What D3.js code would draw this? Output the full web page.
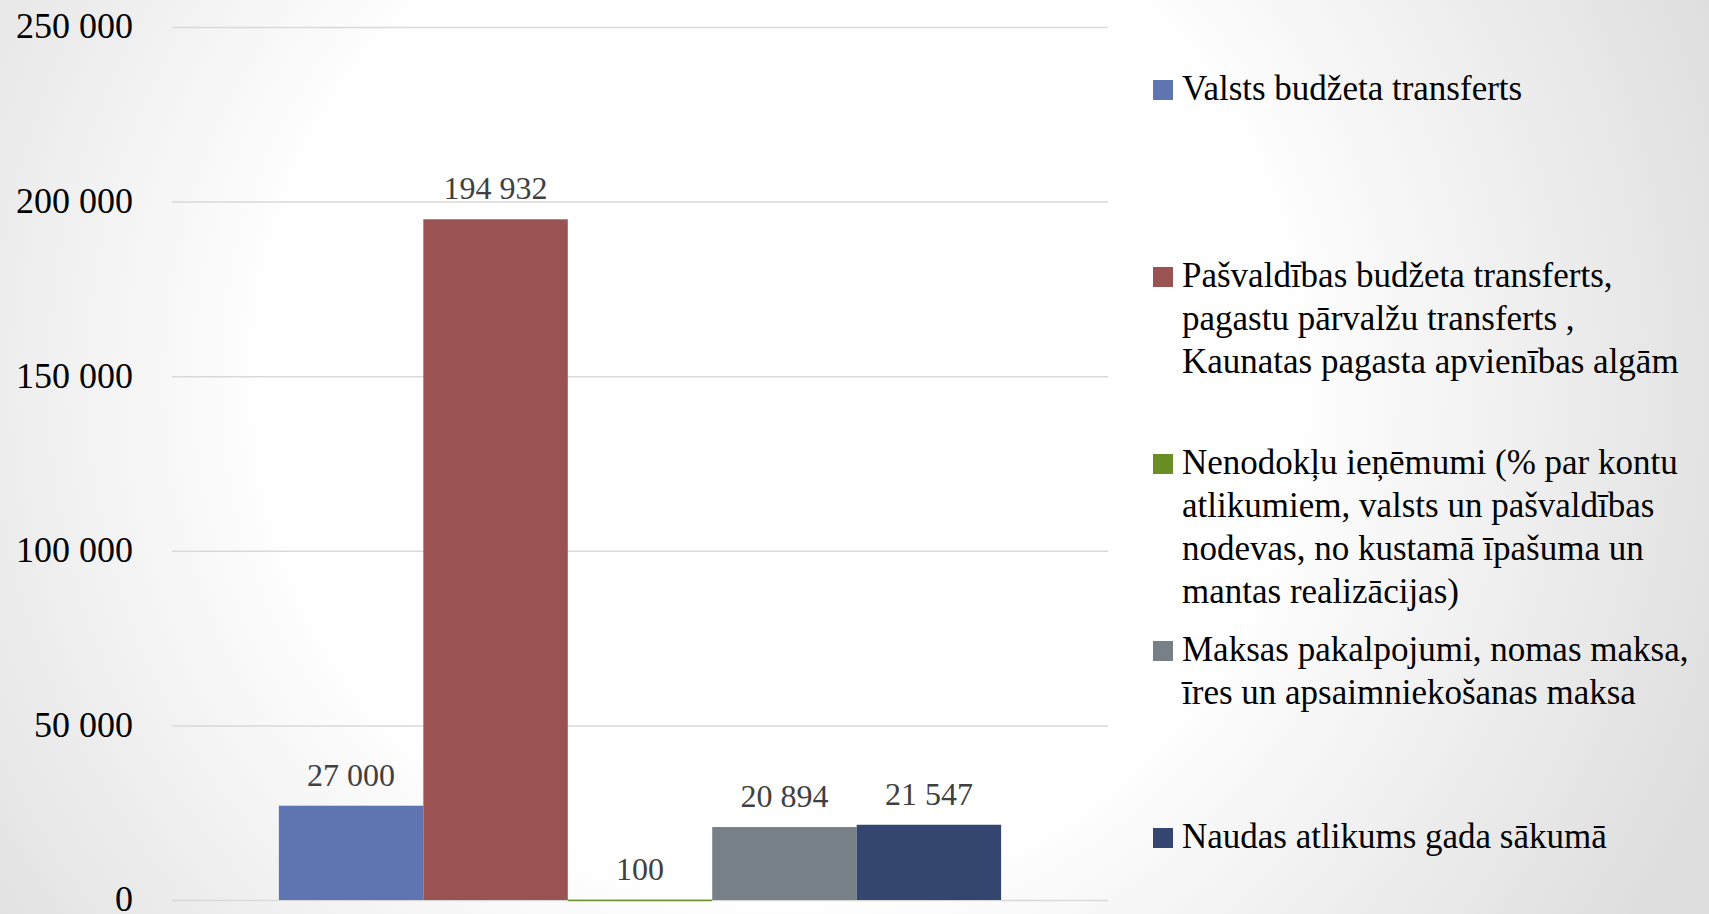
<!DOCTYPE html>
<html>
<head>
<meta charset="utf-8">
<script src="https://cdn.jsdelivr.net/npm/d3@7"></script>
<style>
  html, body { margin: 0; padding: 0; overflow: hidden; }
  svg { display: block; }
</style>
</head>
<body>
<svg id="chart" width="1709" height="914"></svg>
<script>
// ---- data ----
const seriesNames = [
  "Valsts budžeta transferts",
  "Pašvaldības budžeta transferts, pagastu pārvalžu transferts , Kaunatas pagasta apvienības algām",
  "Nenodokļu ieņēmumi (% par kontu atlikumiem, valsts un pašvaldības nodevas, no kustamā īpašuma un mantas realizācijas)",
  "Maksas pakalpojumi, nomas maksa, īres un apsaimniekošanas maksa",
  "Naudas atlikums gada sākumā"
];
const legendLines = [
  ["Valsts budžeta transferts"],
  ["Pašvaldības budžeta transferts,", "pagastu pārvalžu transferts ,", "Kaunatas pagasta apvienības algām"],
  ["Nenodokļu ieņēmumi (% par kontu", "atlikumiem, valsts un pašvaldības", "nodevas, no kustamā īpašuma un", "mantas realizācijas)"],
  ["Maksas pakalpojumi, nomas maksa,", "īres un apsaimniekošanas maksa"],
  ["Naudas atlikums gada sākumā"]
];
const values = [27000, 194932, 100, 20894, 21547];
const colors = ["#5F75B2", "#9B5253", "#6A8E23", "#778086", "#344570"];
const yTicks = [0, 50000, 100000, 150000, 200000, 250000];
const categories = [""];

// ---- layout ----
const svg = d3.select("#chart");
const W = 1709, H = 914;
const plot = { left: 172, right: 1108, top: 27, bottom: 900 };

// background radial gradient
const defs = svg.append("defs");
const grad = defs.append("radialGradient").attr("id", "bg")
  .attr("gradientUnits", "userSpaceOnUse")
  .attr("cx", 780).attr("cy", 380).attr("r", 1010);
grad.append("stop").attr("offset", "0%").attr("stop-color", "#ffffff");
grad.append("stop").attr("offset", "50%").attr("stop-color", "#ffffff");
grad.append("stop").attr("offset", "100%").attr("stop-color", "#dedede");
svg.append("rect").attr("width", W).attr("height", H).attr("fill", "url(#bg)");

const y = d3.scaleLinear().domain([0, 250000]).range([plot.bottom, plot.top]);
const x0 = d3.scaleBand().domain(categories).range([plot.left, plot.right])
  .paddingInner(0).paddingOuter(0.148);
const x1 = d3.scaleBand().domain(d3.range(values.length)).range([0, x0.bandwidth()]).padding(0);

const fmt = v => d3.format(",")(v).replace(/,/g, " ");

// gridlines via axis
const grid = svg.append("g")
  .attr("transform", `translate(${plot.left},0)`)
  .call(d3.axisRight(y).tickValues(yTicks).tickSize(plot.right - plot.left).tickFormat(""));
grid.select(".domain").remove();
grid.selectAll("line").attr("stroke", "#d9d9d9").attr("stroke-width", 1.5);

// y axis labels
const yAxis = svg.append("g")
  .attr("transform", `translate(133,0)`)
  .call(d3.axisLeft(y).tickValues(yTicks).tickSize(0).tickPadding(0).tickFormat(fmt));
yAxis.select(".domain").remove();
yAxis.selectAll("text")
  .attr("font-family", "'Liberation Serif', 'Times New Roman', serif")
  .attr("font-size", 36)
  .attr("fill", "#000")
  .attr("dy", "0.3em");

// bars
const barG = svg.append("g").attr("transform", `translate(${x0("")},0)`);
barG.selectAll("rect").data(values).join("rect")
  .attr("x", (d, i) => x1(i))
  .attr("width", x1.bandwidth())
  .attr("y", d => y(d))
  .attr("height", d => Math.max(y(0) - y(d), 1.5))
  .attr("fill", (d, i) => colors[i]);

// data labels
barG.selectAll("text.lbl").data(values).join("text")
  .attr("class", "lbl")
  .attr("x", (d, i) => x1(i) + x1.bandwidth() / 2)
  .attr("y", d => y(d) - 20)
  .attr("text-anchor", "middle")
  .attr("font-family", "'Liberation Serif', 'Times New Roman', serif")
  .attr("font-size", 32)
  .attr("fill", "#404040")
  .text(fmt);

// legend
const legX = 1153, leg0 = 100, legStep = 187, lineH = 43;
const leg = svg.append("g");
legendLines.forEach((lines, i) => {
  const by = leg0 + i * legStep;
  const g = leg.append("g");
  g.append("rect").attr("x", legX).attr("y", by - 20).attr("width", 20).attr("height", 20)
    .attr("fill", colors[i]);
  const t = g.append("text")
    .attr("font-family", "'Liberation Serif', 'Times New Roman', serif")
    .attr("font-size", 35)
    .attr("fill", "#000");
  lines.forEach((ln, j) => {
    t.append("tspan").attr("x", legX + 29).attr("y", by + j * lineH).text(ln);
  });
  g.append("title").text(seriesNames[i]);
});
</script>
</body>
</html>
